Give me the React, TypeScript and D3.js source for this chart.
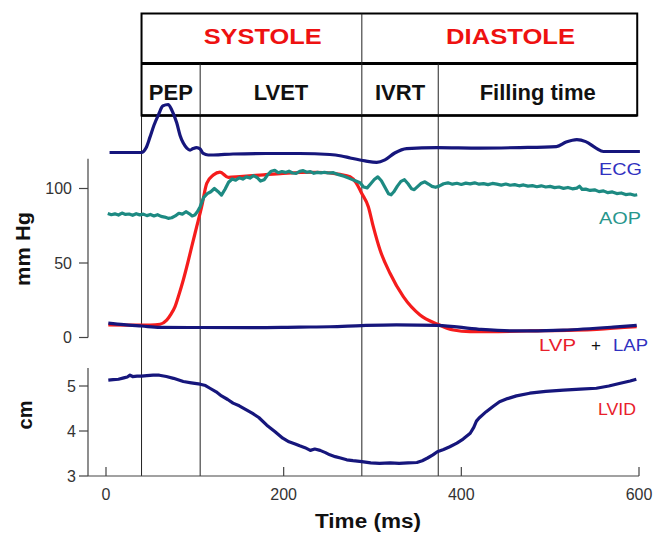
import * as d3 from "d3";

// phase boundaries (ms) and labels
const phaseTimes = [40, 106, 288, 374, 598];
const phaseNames = ["PEP", "LVET", "IVRT", "Filling time"];
const cycleNames = ["SYSTOLE", "DIASTOLE"];

const timeTicks = [0, 200, 400, 600];
const pressureTicks = [0, 50, 100];
const lvidTicks = [3, 4, 5];

// [time ms, mV]
const ecgPoints: [number, number][] = [
  [4, 0.0], [20, 0.0], [40, 0.0], [45, 0.09], [49.5, 0.31], [54, 0.55], [59, 0.76], [64, 0.94],
  [70, 0.97], [74, 0.86], [79.6, 0.6], [83.3, 0.35], [87, 0.19], [91, 0.09], [94.6, 0.05],
  [98, 0.08], [102, 0.1], [106, 0.07], [109.5, -0.02], [115, -0.05], [121, -0.05], [143, -0.03],
  [180, -0.02], [218, -0.02], [252, -0.04], [265, -0.07], [275, -0.11], [291.6, -0.17],
  [304.7, -0.2], [314, -0.15], [325, -0.01], [338.5, 0.08], [372.6, 0.1], [421, 0.09],
  [466, 0.1], [507, 0.12], [518, 0.21], [530, 0.26], [540, 0.22], [551.6, 0.09], [560, 0.02],
  [578.6, 0.02], [601, 0.02],
];

// aortic pressure, mmHg
const aopPoints: [number, number][] = [
  [2, 83.2], [6, 82.4], [10, 83.0], [14, 82.2], [18, 83.5], [22, 82.6], [26, 82.9], [30, 82.0],
  [34, 83.1], [38, 82.3], [42, 82.8], [46, 81.8], [50, 82.6], [54, 81.6], [58, 82.4], [62, 81.3],
  [66, 80.8], [70, 80.0], [74, 80.4], [78, 81.6], [82, 83.4], [86, 82.8], [90, 84.4], [94, 83.0],
  [97, 81.6], [100, 82.2], [103, 84.5], [106, 87.8], [110, 94.0], [114, 96.5], [118, 97.8],
  [122, 100.0], [126, 98.0], [130, 95.6], [134, 99.5], [138, 104.2], [142, 106.4], [146, 105.6],
  [150, 107.2], [154, 106.3], [158, 107.8], [162, 107.0], [166, 108.6], [170, 107.4], [174, 105.0],
  [178, 105.8], [182, 109.2], [186, 111.6], [190, 112.2], [194, 110.6], [198, 111.4], [202, 110.8],
  [206, 111.6], [210, 110.4], [214, 110.2], [218, 111.5], [222, 112.0], [226, 110.9], [230, 111.3],
  [234, 110.2], [238, 110.8], [242, 110.5], [246, 110.9], [250, 110.4], [256, 110.6], [262, 109.3],
  [268, 108.2], [274, 106.8], [280, 105.3], [286, 103.9], [290, 101.0], [294, 100.4], [298, 103.2],
  [302, 106.0], [306, 107.8], [310, 105.2], [314, 100.8], [318, 96.5], [321, 95.8], [324, 97.8],
  [328, 101.6], [332, 104.8], [336, 105.9], [340, 103.2], [344, 99.8], [347, 99.2], [351, 101.4],
  [355, 103.6], [359, 104.5], [363, 103.0], [367, 101.4], [371, 100.8], [375, 101.6], [380, 103.2],
  [385, 103.8], [390, 102.9], [395, 103.5], [400, 102.7], [405, 103.6], [410, 103.1], [415, 103.8],
  [420, 102.9], [425, 103.3], [430, 102.6], [435, 103.4], [440, 102.9], [445, 102.3], [450, 103.0],
  [455, 102.2], [460, 102.6], [465, 101.8], [470, 102.4], [475, 101.6], [480, 101.9], [485, 101.2],
  [490, 101.8], [495, 101.0], [500, 101.4], [505, 100.6], [510, 101.0], [515, 100.1], [520, 100.7],
  [525, 99.8], [530, 100.3], [533, 101.5], [536, 99.4], [540, 99.6], [545, 98.7], [550, 99.1],
  [555, 97.9], [560, 98.4], [565, 97.2], [570, 97.7], [575, 96.6], [580, 97.0], [585, 95.9],
  [590, 96.3], [595, 95.5], [598, 95.8],
];

// left ventricular pressure, mmHg
const lvpPoints: [number, number][] = [
  [2.6, 8.4], [27, 8.3], [49.5, 8.4], [60.8, 8.9], [68.3, 11.7], [73, 15.5], [77.7, 20.7],
  [82, 28.5], [87, 38.6], [92, 50.0], [96.5, 61.0], [102.1, 74.4], [107.7, 87.8], [113.4, 103.5],
  [120.8, 109.0], [128.3, 111.0], [137.7, 107.5], [150.8, 108.0], [173.4, 109.0], [199.3, 110.2],
  [237.2, 110.9], [263.4, 109.5], [274.7, 107.9], [281.4, 104.0], [287.8, 96.8], [295.3, 87.8],
  [300.9, 74.4], [308.5, 58.7], [319.7, 43.1], [334.7, 27.4], [353.5, 15.1], [373.4, 8.9],
  [391, 5.0], [409.8, 3.9], [477.3, 4.4], [552.4, 5.5], [597.4, 7.2],
];

// left atrial pressure, mmHg
const lapPoints: [number, number][] = [
  [2.6, 9.7], [20, 8.6], [40.2, 7.7], [60.8, 6.8], [106, 6.7], [162, 6.6], [218, 7.0],
  [252, 7.2], [287.8, 8.0], [327, 8.5], [373.4, 8.2], [420, 5.5], [458, 4.4], [514.8, 5.0],
  [571, 7.0], [597.4, 8.2],
];

// LV internal diameter, cm
const lvidPoints: [number, number][] = [
  [2.6, 5.13], [8, 5.14], [14, 5.15], [20, 5.18], [24, 5.2], [27, 5.24], [30, 5.21], [35, 5.22],
  [40, 5.22], [46, 5.23], [53, 5.24], [60, 5.24], [68, 5.21], [76, 5.17], [87, 5.1], [96, 5.07],
  [106, 5.04], [112, 5.01], [117, 4.95], [124, 4.87], [130, 4.78], [137, 4.7], [143, 4.62],
  [150, 4.56], [158, 4.47], [165, 4.39], [172, 4.3], [181, 4.13], [190, 3.99], [199, 3.84],
  [206, 3.76], [213, 3.71], [218, 3.67], [224, 3.63], [230, 3.57], [235, 3.6], [241, 3.57],
  [247, 3.52], [252, 3.47], [258, 3.43], [264, 3.4], [271, 3.36], [278, 3.34], [288, 3.32],
  [298, 3.29], [308, 3.28], [320, 3.29], [330, 3.28], [340, 3.29], [350, 3.3], [356, 3.34],
  [362, 3.4], [368, 3.47], [373, 3.54], [380, 3.59], [387, 3.65], [395, 3.73], [402, 3.82],
  [410, 3.95], [414, 4.08], [417, 4.22], [420, 4.29], [428, 4.43], [436, 4.55], [443, 4.65],
  [452, 4.72], [462, 4.78], [477, 4.84], [495, 4.88], [515, 4.91], [534, 4.93], [552, 4.95],
  [566, 5.0], [579, 5.06], [590, 5.11], [597, 5.15],
];

const FONT = "'Liberation Sans', Arial, Helvetica, sans-serif";
const NAVY = "#16167c";
const TEAL = "#1d8a82";
const RED = "#f51c1c";

export default function App() {
  const W = 653;
  const H = 534;

  const x = d3.scaleLinear().domain([0, 600]).range([106, 639]);
  const yP = d3.scaleLinear().domain([0, 120]).range([337.5, 158.7]);
  const yE = d3.scaleLinear().domain([0, 1]).range([152.5, 103]);
  const yD = d3.scaleLinear().domain([3, 5.4]).range([476, 368]);

  const smoothP = d3.line<[number, number]>().x((d) => x(d[0])).y((d) => yP(d[1])).curve(d3.curveMonotoneX);
  const lineAop = d3.line<[number, number]>().x((d) => x(d[0])).y((d) => yP(d[1]));
  const lineE = d3.line<[number, number]>().x((d) => x(d[0])).y((d) => yE(d[1])).curve(d3.curveMonotoneX);
  const lineD = d3.line<[number, number]>().x((d) => x(d[0])).y((d) => yD(d[1]));

  const axisX = 88;
  const headTop = 13.5;
  const headMid = 63.5;
  const headBot = 115.5;
  const xLeft = x(phaseTimes[0]);
  const xRight = x(phaseTimes[4]);

  const cycles = [
    { name: cycleNames[0], from: phaseTimes[0], to: phaseTimes[2], len: 118 },
    { name: cycleNames[1], from: phaseTimes[2], to: phaseTimes[4], len: 129 },
  ];

  return (
    <svg
      width={W}
      height={H}
      style={{ position: "absolute", left: 0, top: 0, background: "#fff" }}
      fontFamily={FONT}
    >
      {/* event lines */}
      {phaseTimes.slice(0, 4).map((t) => (
        <line key={t} x1={x(t)} x2={x(t)} y1={headBot} y2={476} stroke="#222" strokeWidth={1} />
      ))}

      {/* header table */}
      <rect x={xLeft} y={headTop} width={xRight - xLeft} height={headBot - headTop} fill="none" stroke="#000" strokeWidth={2} />
      <line x1={xLeft} x2={xRight} y1={headMid} y2={headMid} stroke="#000" strokeWidth={3} />
      <line x1={xLeft} x2={xRight} y1={headBot} y2={headBot} stroke="#000" strokeWidth={2.5} />
      <line x1={x(phaseTimes[2])} x2={x(phaseTimes[2])} y1={headTop} y2={headBot} stroke="#222" strokeWidth={1} />
      <line x1={x(phaseTimes[1])} x2={x(phaseTimes[1])} y1={headMid} y2={headBot} stroke="#222" strokeWidth={1} />
      <line x1={x(phaseTimes[3])} x2={x(phaseTimes[3])} y1={headMid} y2={headBot} stroke="#222" strokeWidth={1} />
      {cycles.map((c) => (
        <text
          key={c.name}
          x={(x(c.from) + x(c.to)) / 2 + 11}
          y={43.5}
          textAnchor="middle"
          fontSize={22}
          fontWeight="bold"
          fill="#ee1111"
          textLength={c.len}
          lengthAdjust="spacingAndGlyphs"
        >
          {c.name}
        </text>
      ))}
      {phaseNames.map((n, i) => (
        <text
          key={n}
          x={(x(phaseTimes[i]) + x(phaseTimes[i + 1])) / 2}
          y={99.5}
          textAnchor="middle"
          fontSize={22}
          fontWeight="bold"
          fill="#111"
        >
          {n}
        </text>
      ))}

      {/* pressure axis */}
      <line x1={axisX} x2={axisX} y1={yP(0)} y2={yP(120)} stroke="#444" strokeWidth={1.2} />
      {pressureTicks.map((t) => (
        <g key={t}>
          <line x1={axisX - 9} x2={axisX} y1={yP(t)} y2={yP(t)} stroke="#444" strokeWidth={1.2} />
          <text x={72} y={yP(t) + 5.5} textAnchor="end" fontSize={16} fill="#333">
            {t}
          </text>
        </g>
      ))}
      <text
        transform={`translate(30,249) rotate(-90)`}
        textAnchor="middle"
        fontSize={20}
        fontWeight="bold"
        fill="#111"
        textLength={74}
        lengthAdjust="spacingAndGlyphs"
      >
        mm Hg
      </text>

      {/* LVID axis */}
      <line x1={axisX} x2={axisX} y1={yD(3)} y2={yD(5.4)} stroke="#444" strokeWidth={1.2} />
      {lvidTicks.map((t) => (
        <g key={t}>
          <line x1={axisX - 9} x2={axisX} y1={yD(t)} y2={yD(t)} stroke="#444" strokeWidth={1.2} />
          <text x={76} y={yD(t) + 5.5} textAnchor="end" fontSize={16} fill="#333">
            {t}
          </text>
        </g>
      ))}
      <text
        transform={`translate(32,415) rotate(-90)`}
        textAnchor="middle"
        fontSize={20}
        fontWeight="bold"
        fill="#111"
      >
        cm
      </text>

      {/* time axis */}
      <line x1={axisX} x2={x(600)} y1={476} y2={476} stroke="#444" strokeWidth={1.2} />
      {timeTicks.map((t) => (
        <g key={t}>
          <line x1={x(t)} x2={x(t)} y1={476} y2={467} stroke="#444" strokeWidth={1.2} />
          <text x={x(t)} y={500} textAnchor="middle" fontSize={16} fill="#333">
            {t}
          </text>
        </g>
      ))}
      <text
        x={368}
        y={528}
        textAnchor="middle"
        fontSize={20}
        fontWeight="bold"
        fill="#111"
        textLength={106}
        lengthAdjust="spacingAndGlyphs"
      >
        Time (ms)
      </text>

      {/* traces */}
      <path d={lineE(ecgPoints) ?? ""} fill="none" stroke={NAVY} strokeWidth={3.2} strokeLinejoin="round" />
      <path d={smoothP(lvpPoints) ?? ""} fill="none" stroke={RED} strokeWidth={3.2} strokeLinejoin="round" />
      <path d={lineAop(aopPoints) ?? ""} fill="none" stroke={TEAL} strokeWidth={3.2} strokeLinejoin="round" />
      <path d={smoothP(lapPoints) ?? ""} fill="none" stroke={NAVY} strokeWidth={3.2} strokeLinejoin="round" />
      <path d={lineD(lvidPoints) ?? ""} fill="none" stroke={NAVY} strokeWidth={3.2} strokeLinejoin="round" />

      {/* trace labels */}
      <text x={642} y={175} textAnchor="end" fontSize={17} fill="#3030c0" textLength={43} lengthAdjust="spacingAndGlyphs">
        ECG
      </text>
      <text x={641} y={224} textAnchor="end" fontSize={17} fill="#27968c" textLength={42} lengthAdjust="spacingAndGlyphs">
        AOP
      </text>
      <text x={539} y={351} fontSize={17} fill="#e8202a" textLength={37} lengthAdjust="spacingAndGlyphs">
        LVP
      </text>
      <text x={596} y={351} textAnchor="middle" fontSize={17} fill="#111">
        +
      </text>
      <text x={648} y={351} textAnchor="end" fontSize={17} fill="#3030c0" textLength={35} lengthAdjust="spacingAndGlyphs">
        LAP
      </text>
      <text x={636} y={415} textAnchor="end" fontSize={17} fill="#e8202a" textLength={38} lengthAdjust="spacingAndGlyphs">
        LVID
      </text>
    </svg>
  );
}
